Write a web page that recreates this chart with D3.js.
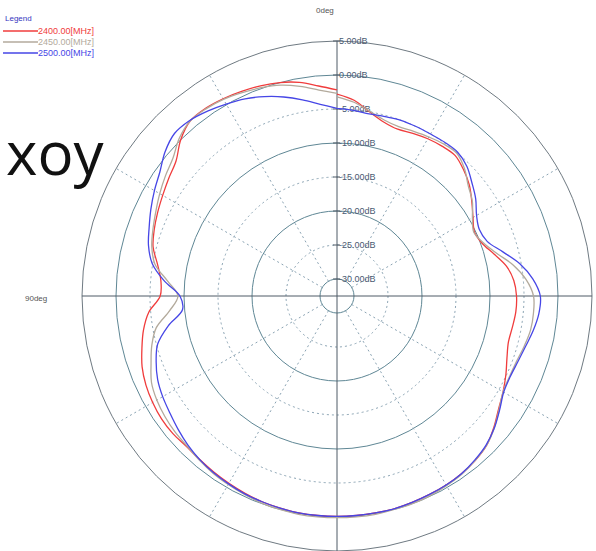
<!DOCTYPE html>
<html>
<head>
<meta charset="utf-8">
<script src="https://cdn.jsdelivr.net/npm/d3@7"></script>
<style>
  body { margin: 0; background: #fff; }
  svg { display: block; }
  text { font-family: Arial, "Liberation Sans", sans-serif; }
</style>
</head>
<body>
<div id="chart"></div>
<script>
// angles in degrees, 0 at top, counter-clockwise (90deg on the left)
var angles = d3.range(0, 361, 5);

var gain2400 = [-2.2, -1.5, -0.6, 0.0, 0.4, 0.7, 1.0, 1.2, 1.1, 0.0, -1.6, -2.3, -2.9, -3.4, -3.9, -4.5, -5.7, -6.5,
  -6.5, -4.7, -3.6, -2.8, -2.0, -1.5, -1.2, -1.0, -1.0, -1.2, -1.1, -0.9, -0.7, -0.5, -0.3, -0.2, -0.1, -0.1,
  -0.1, -0.1, -0.1, -0.1, -0.2, -0.3, -0.4, -0.6, -0.9, -1.4, -2.4, -3.5, -4.3, -5.1, -5.9, -6.4, -6.3, -6.1,
  -6.1, -6.4, -7.2, -8.6, -9.8, -10.2, -9.4, -8.3, -7.1, -6.2, -5.5, -5.6, -5.8, -6.1, -6.4, -6.0, -5.0, -3.6, -2.8];

var gain2450 = [-2.7, -2.1, -1.2, -0.4, 0.1, 0.5, 0.9, 1.1, 1.1, 0.3, -1.0, -1.7, -2.4, -3.1, -3.7, -4.3, -5.3, -7.5,
  -9.1, -7.8, -5.5, -4.3, -3.4, -2.4, -1.9, -1.6, -1.4, -1.3, -1.0, -0.7, -0.5, -0.3, -0.1, 0.0, 0.1, 0.1,
  0.1, 0.1, 0.1, 0.0, 0.0, -0.1, -0.3, -0.5, -0.9, -1.4, -2.3, -3.4, -4.3, -4.5, -4.4, -4.0, -3.6, -3.5,
  -3.6, -4.6, -6.2, -8.2, -9.6, -10.3, -9.5, -8.2, -7.3, -6.0, -5.1, -5.2, -5.5, -5.8, -6.0, -5.7, -4.9, -3.9, -3.2];

var gain2500 = [-4.9, -4.2, -3.2, -2.2, -1.3, -0.5, 0.1, 0.7, 1.2, 1.3, 0.5, -0.7, -1.5, -2.3, -3.1, -3.8, -4.9, -7.0,
  -9.4, -9.7, -7.3, -5.2, -4.2, -3.4, -2.9, -2.5, -2.0, -1.5, -1.1, -0.8, -0.6, -0.4, -0.3, -0.2, -0.1, -0.1,
  -0.1, -0.1, -0.1, -0.1, -0.2, -0.3, -0.4, -0.6, -1.0, -1.5, -2.3, -3.3, -4.2, -4.4, -4.2, -3.8, -3.2, -2.7,
  -2.6, -3.6, -5.2, -7.3, -9.0, -9.4, -8.8, -7.6, -6.6, -5.5, -4.9, -4.9, -5.0, -5.0, -5.0, -5.2, -5.3, -5.1, -4.9];

var ringValues = [5, 0, -5, -10, -15, -20, -25, -30];
var spokeAngles = [30, 60, 120, 150, 210, 240, 300, 330];
var seriesNames = ['2400.00[MHz]', '2450.00[MHz]', '2500.00[MHz]'];
var seriesColors = ['#f03c3c', '#b3aa9c', '#4646e6'];
var series = [gain2400, gain2450, gain2500];

var width = 596, height = 551;
var cx = 337, cy = 296;

var r = d3.scaleLinear().domain([-30, 5]).range([17, 255]);

var svg = d3.select('#chart').append('svg')
    .attr('width', width)
    .attr('height', height);

var g = svg.append('g').attr('transform', 'translate(' + cx + ',' + cy + ')');

// rings: solid every 10 dB, dotted in between
g.selectAll('circle.ring').data(ringValues)
  .enter().append('circle')
    .attr('class', 'ring')
    .attr('r', function(d) { return r(d); })
    .style('fill', 'none')
    .style('stroke', function(d) { return d % 10 === 0 ? '#5f8795' : (d === 5 || d === -30 ? '#6f7a82' : '#8aa3b3'); })
    .style('stroke-width', 1)
    .style('stroke-dasharray', function(d) { return (d % 10 === 0 || d === 5 || d === -30) ? null : '2,3'; });

// dotted spokes
g.selectAll('line.spoke').data(spokeAngles)
  .enter().append('line')
    .attr('x1', function(d) { return -r(-30) * Math.sin(d * Math.PI / 180); })
    .attr('y1', function(d) { return -r(-30) * Math.cos(d * Math.PI / 180); })
    .attr('x2', function(d) { return -r(5) * Math.sin(d * Math.PI / 180); })
    .attr('y2', function(d) { return -r(5) * Math.cos(d * Math.PI / 180); })
    .style('stroke', '#8aa3b3')
    .style('stroke-dasharray', '2,3');

// axes
g.append('line').attr('x1', -r(5)).attr('x2', r(5)).attr('y1', 0).attr('y2', 0)
  .style('stroke', '#4f5a66');
g.append('line').attr('x1', 0).attr('x2', 0).attr('y1', -r(5)).attr('y2', r(5))
  .style('stroke', '#4f5a66');

// ring labels
g.selectAll('line.tick').data(ringValues)
  .enter().append('line')
    .attr('x1', -4).attr('x2', 3)
    .attr('y1', function(d) { return -r(d); })
    .attr('y2', function(d) { return -r(d); })
    .style('stroke', '#4f5a66');

g.selectAll('text.ring').data(ringValues)
  .enter().append('text')
    .attr('x', 2)
    .attr('y', function(d) { return -r(d) + 3; })
    .style('font-size', '9px')
    .style('fill', '#4a5a72')
    .text(function(d) { return d.toFixed(2) + 'dB'; });

svg.append('text').attr('x', 316).attr('y', 13)
  .style('font-size', '8px').style('fill', '#555')
  .text('0deg');
svg.append('text').attr('x', 25).attr('y', 301)
  .style('font-size', '8px').style('fill', '#555')
  .text('90deg');

// traces
var line = d3.lineRadial()
    .angle(function(d) { return -d[0] * Math.PI / 180; })
    .radius(function(d) { return r(d[1]); })
    .curve(d3.curveCatmullRom);

g.selectAll('path.trace').data(series)
  .enter().append('path')
    .attr('d', function(s) { return line(angles.map(function(a, i) { return [a, s[i]]; })); })
    .style('fill', 'none')
    .style('stroke', function(s, i) { return seriesColors[i]; })
    .style('stroke-width', 1.3);

// legend
svg.append('text').attr('x', 5).attr('y', 21)
  .style('font-size', '8px').style('fill', '#3535c0')
  .text('Legend');

var legend = svg.selectAll('g.legend').data(seriesNames)
  .enter().append('g')
    .attr('transform', function(d, i) { return 'translate(0,' + (31 + i * 11) + ')'; });

legend.append('line')
  .attr('x1', 3).attr('x2', 38)
  .style('stroke', function(d, i) { return seriesColors[i]; })
  .style('stroke-width', 1.3);

legend.append('text')
  .attr('x', 38).attr('y', 3)
  .style('font-size', '9px')
  .style('fill', function(d, i) { return seriesColors[i]; })
  .text(function(d) { return d; });

svg.append('text').attr('x', 6).attr('y', 175)
  .style('font-family', '"Open Sans", sans-serif')
  .style('font-size', '60px')
  .style('fill', '#111')
  .text('xoy');
</script>
</body>
</html>
